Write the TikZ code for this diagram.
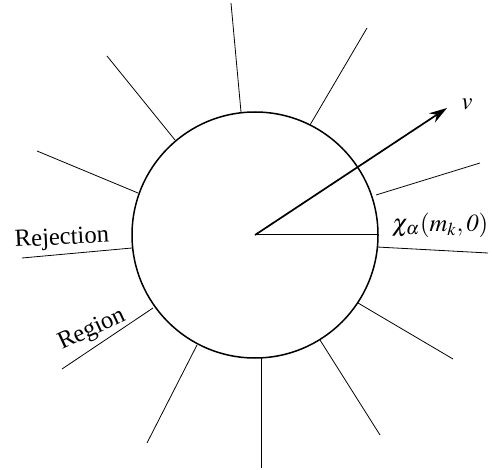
\documentclass[tikz,border=0pt]{standalone}
\usepackage{mathptmx}
\usepackage{fontspec}
\setmainfont{Liberation Serif}
\usetikzlibrary{arrows.meta}

\begin{document}
\begin{tikzpicture}[x=0.5pt,y=-0.5pt,
  spoke/.style={line width=0.4pt},
  lbl/.style={font=\fontsize{12.3}{14}\selectfont,inner sep=0pt}]
\useasboundingbox (0,0) rectangle (492,470);
\coordinate (o) at (255,235);
\draw[line width=0.75pt] (o) circle (123);
% rejection region
\foreach \ax/\ay/\bx/\by in {241/112/231/3,310/125/367/28,175/140/107/56,138/193/37/151,
  132/248/22/258,153/308/62/369,197/345/147/443,261/358/261/468,320/340/380/435,
  358/303/453/359,377/247/488/253,376/195/480/163}{
  \draw[spoke] (\ax,\ay) -- (\bx,\by);
}
\coordinate (rim) at (378,235);
\coordinate (vend) at (447,108);
\draw[line width=0.5pt] (o) -- (rim);
\draw[line width=0.85pt,-{Stealth[length=9pt,width=5.5pt]}] (o) -- (vend);
\node[lbl] (vlab) at (467,104) {$v$};
\node[lbl] (chi) at (440,225) {$\chi_{\alpha}(m_{k},\mathit{0})$};
\node[lbl,rotate=3] (rej) at (62,239) {Rejection};
\node[lbl,rotate=25] (reg) at (92,330) {Region};
\end{tikzpicture}
\end{document}
